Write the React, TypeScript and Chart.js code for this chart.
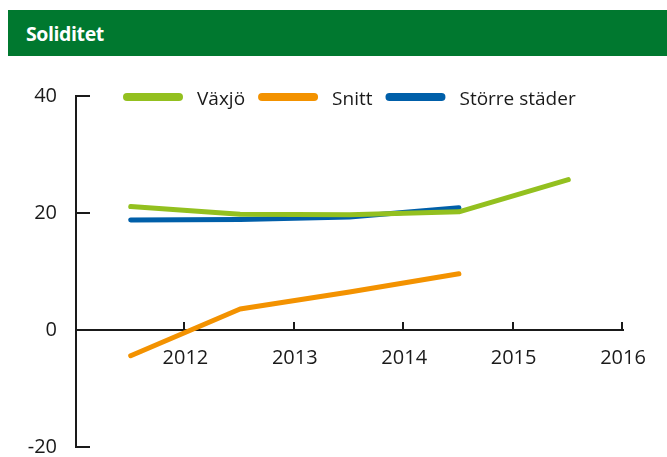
import React, { useEffect, useRef } from "react";
import { Chart, registerables } from "chart.js";

Chart.register(...registerables);

// Data
const periods = [2011, 2012, 2013, 2014, 2015];
const vaxjo = [21.1, 19.8, 19.7, 20.2, 25.7];
const snitt = [-4.4, 3.6, 6.5, 9.6];
const storreStader = [18.8, 18.9, 19.3, 20.9];
const xTickLabels = [2012, 2013, 2014, 2015, 2016];
const yTickValues = [-20, 0, 20, 40];
const seriesNames = ["Växjö", "Snitt", "Större städer"];
const seriesColors = ["#93c01f", "#f39200", "#005fa9"];
const titleText = "Soliditet";

const FONT = '"Open Sans", "DejaVu Sans", sans-serif';
const INK = "#1a1a1a";

const toPoints = (vals: number[]) =>
  vals.map((v, i) => ({ x: periods[i] + 0.5, y: v }));

const tickMarksPlugin = {
  id: "tickMarks",
  beforeDatasetsDraw(chart: any) {
    const { ctx, chartArea, scales } = chart;
    const xs = scales.x;
    const ys = scales.y;
    const y0 = ys.getPixelForValue(0);
    ctx.save();
    ctx.strokeStyle = INK;
    ctx.lineWidth = 2;
    ctx.beginPath();
    for (const v of yTickValues) {
      const y = ys.getPixelForValue(v);
      ctx.moveTo(chartArea.left, y);
      ctx.lineTo(chartArea.left + 14, y);
    }
    for (const t of xTickLabels) {
      const x = Math.round(xs.getPixelForValue(t)) - 1;
      ctx.moveTo(x, y0);
      ctx.lineTo(x, y0 - 8);
    }
    ctx.stroke();
    ctx.restore();
  },
};

const legendPlugin = {
  id: "customLegend",
  afterDraw(chart: any) {
    const { ctx } = chart;
    ctx.save();
    ctx.font = `19px ${FONT}`;
    ctx.textBaseline = "alphabetic";
    let x = 123;
    const y = 97;
    chart.data.datasets.forEach((ds: any) => {
      ctx.strokeStyle = ds.borderColor;
      ctx.lineWidth = 8;
      ctx.lineCap = "round";
      ctx.beginPath();
      ctx.moveTo(x + 4, y);
      ctx.lineTo(x + 56, y);
      ctx.stroke();
      x += 60 + 14;
      ctx.fillStyle = INK;
      ctx.fillText(ds.label, x, y + 7.5);
      x += ctx.measureText(ds.label).width + 13;
    });
    ctx.restore();
  },
};

export default function App() {
  const canvasRef = useRef<HTMLCanvasElement | null>(null);

  useEffect(() => {
    const canvas = canvasRef.current;
    if (!canvas) return;
    const series = [vaxjo, snitt, storreStader];
    const chart = new Chart(canvas, {
      type: "line",
      data: {
        datasets: series.map((vals, i) => ({
          label: seriesNames[i],
          data: toPoints(vals),
          borderColor: seriesColors[i],
          backgroundColor: seriesColors[i],
          borderWidth: 5,
          borderCapStyle: "round",
          borderJoinStyle: "round",
          pointRadius: 0,
          pointHoverRadius: 0,
          tension: 0,
          fill: false,
        })),
      },
      options: {
        responsive: false,
        animation: false,
        events: [],
        layout: { padding: { top: 96, right: 44, bottom: 10, left: 0 } },
        plugins: {
          legend: { display: false },
          tooltip: { enabled: false },
          title: { display: false },
        },
        scales: {
          x: {
            type: "linear",
            position: { y: 0 } as any,
            min: 2011,
            max: 2016,
            grid: { display: false },
            border: { display: true, color: INK, width: 2 },
            ticks: {
              stepSize: 1,
              autoSkip: false,
              maxRotation: 0,
              padding: 8,
              color: INK,
              font: { family: FONT, size: 20 },
              callback: (v: any) =>
                xTickLabels.includes(Number(v)) ? String(v) : "",
            },
            afterFit: (s: any) => {
              s.paddingLeft = 0;
              s.paddingRight = 0;
            },
          },
          y: {
            type: "linear",
            min: -20,
            max: 40,
            grid: { display: false },
            border: { display: true, color: INK, width: 2 },
            ticks: {
              stepSize: 20,
              padding: 11,
              color: INK,
              font: { family: FONT, size: 20 },
              callback: (v: any) => String(v),
            },
            afterFit: (s: any) => {
              s.width = 76;
              s.paddingTop = 0;
              s.paddingBottom = 0;
            },
          },
        },
      },
      plugins: [tickMarksPlugin, legendPlugin],
    });
    return () => chart.destroy();
  }, []);

  return (
    <div style={{ position: "absolute", left: 0, top: 0, width: 667, height: 457, background: "#fff" }}>
      <canvas ref={canvasRef} width={667} height={457} style={{ position: "absolute", left: 0, top: 0, width: 667, height: 457 }} />
      <div
        style={{
          position: "absolute",
          left: 8,
          top: 10,
          width: 659,
          height: 46,
          background: "#00782f",
          color: "#fff",
          fontFamily: FONT,
          fontWeight: 700,
          fontSize: 19.5,
          letterSpacing: -0.4,
          display: "flex",
          alignItems: "center",
          paddingLeft: 18,
          boxSizing: "border-box",
        }}
      >
        {titleText}
      </div>
    </div>
  );
}
